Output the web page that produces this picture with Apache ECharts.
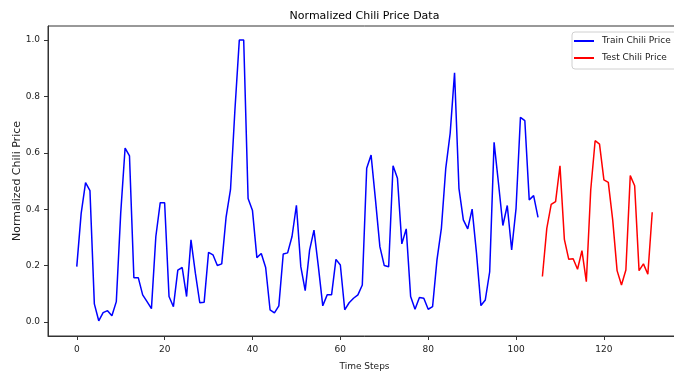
<!DOCTYPE html>
<html>
<head>
<meta charset="utf-8">
<script src="https://cdn.jsdelivr.net/npm/echarts@6/dist/echarts.min.js"></script>
<style>
html,body{margin:0;padding:0;overflow:hidden;background:#fff;}
#chart{width:729px;height:374px;}
</style>
</head>
<body>
<div id="chart"></div>
<script>
const trainValues = [
  0.196, 0.385, 0.494, 0.466, 0.064, 0.004, 0.033, 0.040, 0.022, 0.072,
  0.385, 0.617, 0.589, 0.157, 0.157, 0.096, 0.072, 0.047, 0.303, 0.423,
  0.423, 0.090, 0.054, 0.184, 0.193, 0.090, 0.291, 0.173, 0.068, 0.070,
  0.247, 0.238, 0.200, 0.206, 0.373, 0.470, 0.752, 1.000, 1.000, 0.438,
  0.395, 0.228, 0.243, 0.193, 0.043, 0.032, 0.057, 0.241, 0.245, 0.303,
  0.414, 0.196, 0.111, 0.255, 0.326, 0.196, 0.057, 0.096, 0.096, 0.222,
  0.202, 0.043, 0.068, 0.084, 0.096, 0.131, 0.545, 0.592, 0.433, 0.267,
  0.200, 0.196, 0.554, 0.510, 0.277, 0.330, 0.090, 0.045, 0.087, 0.084,
  0.045, 0.054, 0.220, 0.332, 0.545, 0.669, 0.884, 0.474, 0.362, 0.330,
  0.400, 0.243, 0.058, 0.078, 0.178, 0.637, 0.492, 0.342, 0.413, 0.255,
  0.403, 0.726, 0.714, 0.433, 0.448, 0.371
];
const testValues = [
  0.161, 0.332, 0.417, 0.427, 0.554, 0.293, 0.222, 0.224, 0.187, 0.253,
  0.143, 0.468, 0.643, 0.631, 0.504, 0.495, 0.362, 0.182, 0.131, 0.184,
  0.519, 0.483, 0.182, 0.206, 0.169, 0.389
];
const xTicks = [0, 20, 40, 60, 80, 100, 120];
const yTicks = [0, 0.2, 0.4, 0.6, 0.8, 1.0];
const titleText = 'Normalized Chili Price Data';
const xName = 'Time Steps';
const yName = 'Normalized Chili Price';
const trainName = 'Train Chili Price';
const testName = 'Test Chili Price';

const trainStart = 0;
const testStart = trainValues.length;
const trainData = trainValues.map((v, i) => [trainStart + i, v]);
const testData = testValues.map((v, i) => [testStart + i, v]);

const FONT = 'DejaVu Sans';
const TXT = '#222';
const chart = echarts.init(document.getElementById('chart'), null, {renderer: 'canvas'});
chart.setOption({
  animation: false,
  backgroundColor: '#fff',
  title: {
    text: titleText,
    left: 'center',
    top: 6,
    textStyle: {fontFamily: FONT, fontSize: 11, fontWeight: 'normal', color: '#000'}
  },
  legend: {
    orient: 'vertical',
    left: 572,
    top: 32,
    icon: 'rect',
    itemWidth: 20,
    itemHeight: 2,
    itemGap: 5,
    padding: [3, 8, 5, 2],
    borderColor: '#d0d0d0',
    borderWidth: 1,
    borderRadius: 3,
    backgroundColor: '#fff',
    textStyle: {fontFamily: FONT, fontSize: 9, color: TXT, lineHeight: 12, padding: [0, 0, 0, 3]},
    data: [trainName, testName]
  },
  grid: {
    left: 48, top: 26, right: 48, bottom: 38,
    containLabel: false,
    outerBoundsMode: 'none',
    show: true, borderColor: '#333', borderWidth: 1
  },
  xAxis: {
    type: 'value',
    min: -6.55,
    max: 137.55,
    name: xName,
    nameLocation: 'middle',
    nameGap: 26,
    nameMoveOverlap: false,
    nameTextStyle: {fontFamily: FONT, fontSize: 9, color: TXT},
    axisLine: {show: true, onZero: false, lineStyle: {color: '#333', width: 1}},
    axisTick: {show: true, inside: false, length: 4, lineStyle: {color: '#333'}, customValues: xTicks},
    axisLabel: {fontFamily: FONT, fontSize: 9, color: TXT, margin: 9, customValues: xTicks},
    splitLine: {show: false}
  },
  yAxis: {
    type: 'value',
    min: -0.05,
    max: 1.05,
    name: yName,
    nameLocation: 'middle',
    nameGap: 25,
    nameMoveOverlap: false,
    nameTextStyle: {fontFamily: FONT, fontSize: 11, color: TXT},
    axisLine: {show: true, onZero: false, lineStyle: {color: '#333', width: 1}},
    axisTick: {show: true, inside: false, length: 4, lineStyle: {color: '#333'}, customValues: yTicks},
    axisLabel: {fontFamily: FONT, fontSize: 9, color: TXT, margin: 8, customValues: yTicks,
      formatter: v => v.toFixed(1)},
    splitLine: {show: false}
  },
  series: [
    {
      name: trainName, type: 'line', data: trainData, showSymbol: false,
      lineStyle: {color: '#0000ff', width: 1.5}, itemStyle: {color: '#0000ff'}
    },
    {
      name: testName, type: 'line', data: testData, showSymbol: false,
      lineStyle: {color: '#ff0000', width: 1.5}, itemStyle: {color: '#ff0000'}
    }
  ]
});
</script>
</body>
</html>
